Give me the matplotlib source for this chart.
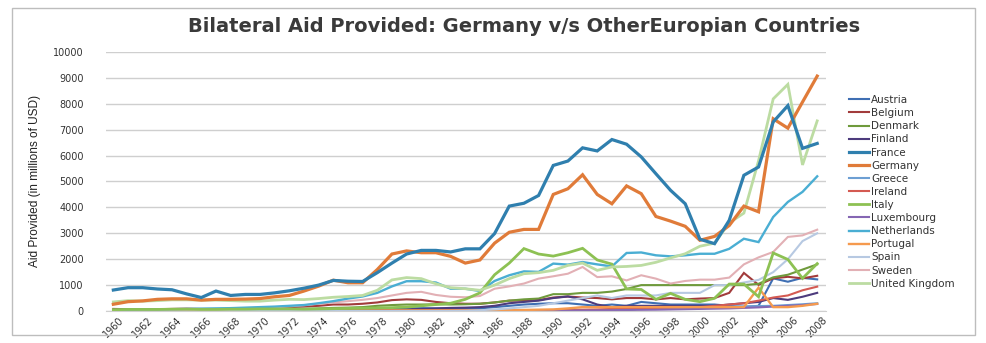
import matplotlib
matplotlib.use("Agg")
import matplotlib.pyplot as plt
from matplotlib.patches import Rectangle

years = list(range(1960, 2009))

austria = [10, 10, 15, 20, 30, 60, 40, 30, 20, 20, 20, 25, 30, 35, 40, 50, 60, 70, 80, 90,
           100, 110, 100, 100, 100, 100, 150, 200, 250, 280, 300, 300, 250, 200, 250, 200, 350, 300, 250, 250,
           250, 250, 200, 150, 200, 1260, 1130, 1280, 1220]
belgium = [80, 70, 70, 70, 80, 90, 80, 80, 80, 100, 110, 130, 150, 170, 200, 250, 250, 280, 330, 420,
           450, 430, 350, 300, 280, 280, 330, 400, 400, 420, 520, 560, 520, 500, 450, 500, 500, 450, 500, 450,
           480, 500, 700, 1470, 1010, 1260, 1320, 1260, 1360]
denmark = [10, 10, 10, 10, 10, 15, 20, 25, 30, 40, 50, 60, 70, 80, 100, 120, 130, 150, 200, 230,
           250, 250, 260, 250, 260, 280, 330, 400, 450, 480, 650, 650, 700, 700, 750, 850, 1000, 1000, 1000, 1000,
           1000, 1000, 1000, 1000, 1050, 1300, 1400, 1600, 1800]
finland = [0, 0, 0, 0, 0, 2, 2, 3, 3, 4, 5, 7, 10, 15, 20, 30, 35, 40, 45, 50,
           60, 80, 100, 120, 130, 150, 200, 300, 350, 400, 500, 560, 450, 250, 150, 200, 200, 200, 200, 200,
           200, 200, 250, 300, 350, 500, 430, 550, 700]
france = [810, 900, 900, 850, 820, 660, 520, 770, 600, 640, 640, 700, 780, 880, 1000, 1180, 1150, 1140, 1480, 1850,
          2200, 2340, 2340, 2280, 2400, 2400, 2990, 4050, 4160, 4460, 5620, 5790, 6300, 6180, 6620, 6440, 5950, 5300, 4660, 4140,
          2770, 2600, 3500, 5240, 5560, 7300, 7930, 6280, 6470]
germany = [260, 360, 390, 450, 470, 470, 420, 450, 450, 460, 480, 550, 600, 770, 960, 1190, 1090, 1090, 1600, 2200,
           2320, 2250, 2250, 2110, 1850, 1970, 2620, 3040, 3150, 3150, 4500, 4720, 5260, 4500, 4140, 4830, 4530, 3650, 3470, 3270,
           2730, 2880, 3300, 4050, 3830, 7420, 7060, 8070, 9070]
greece = [0, 0, 0, 0, 0, 0, 0, 0, 0, 0, 0, 0, 0, 0, 0, 0, 0, 0, 0, 0,
          0, 0, 0, 0, 0, 0, 0, 0, 0, 0, 0, 0, 0, 0, 0, 20, 100, 110, 120, 130,
          150, 160, 170, 180, 190, 200, 230, 260, 300]
ireland = [0, 0, 0, 0, 0, 0, 0, 0, 0, 0, 2, 3, 4, 5, 6, 8, 10, 12, 15, 18,
           20, 22, 24, 26, 28, 30, 32, 34, 36, 38, 40, 45, 50, 60, 80, 100, 110, 120, 130, 140,
           150, 200, 250, 300, 400, 520, 600, 800, 940]
italy = [50, 60, 60, 60, 70, 70, 60, 60, 70, 70, 80, 80, 80, 70, 80, 90, 100, 110, 120, 130,
         150, 200, 250, 300, 450, 700, 1400, 1850, 2410, 2200, 2120, 2250, 2420, 1970, 1810, 850, 830, 450, 680, 450,
         360, 490, 1040, 1040, 550, 2240, 1990, 1260, 1830]
luxembourg = [0, 0, 0, 0, 0, 0, 0, 0, 0, 0, 0, 0, 0, 0, 0, 0, 0, 0, 0, 0,
              0, 0, 0, 0, 0, 5, 5, 6, 8, 10, 10, 15, 20, 25, 30, 40, 45, 50, 60, 70,
              80, 90, 100, 120, 140, 170, 200, 230, 270]
netherlands = [40, 50, 60, 60, 70, 80, 90, 100, 110, 130, 150, 170, 200, 230, 300, 380, 480, 560, 700, 950,
               1150, 1150, 1100, 860, 860, 770, 1160, 1380, 1530, 1510, 1830, 1790, 1890, 1800, 1720, 2240, 2260, 2150, 2110, 2150,
               2210, 2210, 2400, 2790, 2660, 3630, 4210, 4600, 5200]
portugal = [30, 30, 30, 30, 30, 30, 30, 30, 30, 30, 30, 30, 30, 30, 30, 20, 20, 20, 20, 20,
            20, 20, 20, 20, 20, 20, 20, 30, 40, 50, 60, 100, 150, 150, 150, 150, 150, 150, 150, 150,
            150, 150, 150, 150, 900, 150, 150, 200, 280]
spain = [0, 0, 0, 0, 0, 0, 0, 0, 0, 0, 0, 0, 0, 0, 0, 0, 0, 0, 0, 0,
         0, 0, 0, 0, 10, 30, 60, 100, 150, 200, 300, 400, 500, 600, 500, 600, 600, 600, 700, 700,
         700, 1000, 1000, 1100, 1200, 1500, 2000, 2700, 3000]
sweden = [10, 10, 15, 20, 30, 40, 50, 60, 70, 90, 110, 140, 180, 220, 280, 330, 380, 430, 500, 600,
          700, 740, 620, 550, 530, 580, 860, 950, 1060, 1250, 1340, 1440, 1700, 1310, 1340, 1180, 1380, 1250, 1060, 1160,
          1210, 1210, 1290, 1800, 2070, 2280, 2860, 2920, 3140]
uk = [350, 400, 380, 400, 430, 430, 420, 420, 400, 380, 380, 420, 450, 440, 480, 530, 560, 600, 800, 1200,
      1290, 1250, 1050, 900, 860, 800, 1000, 1250, 1440, 1480, 1570, 1760, 1850, 1570, 1700, 1720, 1760, 1880, 2050, 2210,
      2500, 2620, 3400, 3780, 5800, 8190, 8750, 5640, 7340]

countries = ["Austria", "Belgium", "Denmark", "Finland", "France", "Germany", "Greece",
             "Ireland", "Italy", "Luxembourg", "Netherlands", "Portugal", "Spain",
             "Sweden", "United Kingdom"]
series = [austria, belgium, denmark, finland, france, germany, greece, ireland, italy,
          luxembourg, netherlands, portugal, spain, sweden, uk]
colors = ["#3f6fb3", "#a23b3b", "#6f9a3c", "#4d3b7d", "#2f7fae", "#e07b39", "#6d9fd3",
          "#d45a52", "#8dc153", "#8566b3", "#4aaed3", "#f59a4e", "#b7c9e2", "#e2b0b5", "#bcdca2"]
widths = [1.5, 1.5, 1.5, 1.5, 2.3, 2.3, 1.5, 1.5, 2.0, 1.5, 1.7, 1.7, 1.5, 1.5, 2.0]

title = "Bilateral Aid Provided: Germany v/s OtherEuropian Countries"
ylabel = "Aid Provided (in millions of USD)"
xticks = list(range(1960, 2009, 2))
yticks = list(range(0, 10001, 1000))

plt.rcParams['font.family'] = ['DejaVu Sans']
fig = plt.figure(figsize=(9.86, 3.43), dpi=100)
ax = fig.add_axes([106/986, 1 - 311/343, 720/986, 259/343])

order = [0, 1, 2, 3, 6, 7, 9, 11, 12, 13, 10, 8, 14, 5, 4]
handles = {}
for i in order:
    ln, = ax.plot(years, series[i], color=colors[i], lw=widths[i], label=countries[i],
                  solid_joinstyle='miter')
    handles[i] = ln

ax.set_xlim(1959.5, 2008.6)
ax.set_ylim(0, 10000)
ax.set_yticks(yticks)
ax.set_yticklabels([str(v) for v in yticks], fontsize=7, color="#333333")
ax.set_xticks(xticks)
ax.set_xticklabels([str(v) for v in xticks], fontsize=7, rotation=45, color="#333333",
                   ha='center', va='top')
ax.tick_params(axis='y', length=0, pad=16)
ax.tick_params(axis='x', length=0, pad=3)
ax.grid(axis='y', color="#cfcfcf", lw=1.0)
ax.set_axisbelow(True)
for s in ['left', 'right', 'top']:
    ax.spines[s].set_visible(False)
ax.spines['bottom'].set_color("#cfcfcf")

fig.text(35/986, 1 - 181/343, ylabel, rotation=90, fontsize=8.6, ha='center', va='center',
         color="#222222", family=['Liberation Sans Narrow', 'Liberation Sans', 'DejaVu Sans'])
fig.text(524/986, 1 - 27/343, title, fontsize=14, fontweight='bold', ha='center', va='center',
         color="#3a3a3a")

leg = ax.legend([handles[i] for i in range(15)], countries, loc='upper left',
                bbox_to_anchor=(849/986, 1 - 95/343), bbox_transform=fig.transFigure,
                frameon=False, fontsize=7.5, handlelength=1.9, handletextpad=0.2,
                labelspacing=0.3, borderaxespad=0, borderpad=0)
for t in leg.get_texts():
    t.set_color("#333333")

fig.patches.append(Rectangle((12/986, 8/343), 963/986, 327/343, transform=fig.transFigure,
                             fill=False, edgecolor="#bdbdbd", lw=1.0))

fig.savefig("out.png", dpi=100)
